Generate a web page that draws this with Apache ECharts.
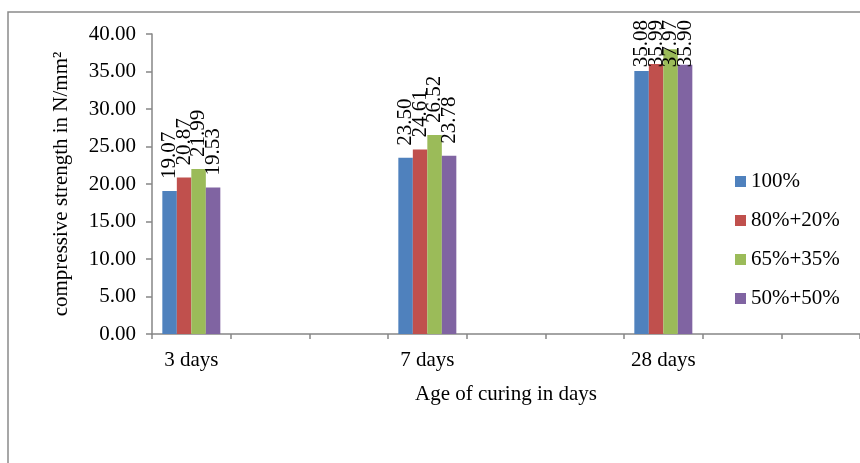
<!DOCTYPE html>
<html>
<head>
<meta charset="utf-8">
<script src="https://cdn.jsdelivr.net/npm/echarts@6/dist/echarts.min.js"></script>
<style>html,body{margin:0;padding:0;background:#fff;}#c{width:860px;height:463px;}</style>
</head>
<body>
<div id="c"></div>
<script>
const categories = ["3 days", "", "", "7 days", "", "", "28 days", "", ""];
const seriesNames = ["100%", "80%+20%", "65%+35%", "50%+50%"];
const s100 = [19.07, null, null, 23.50, null, null, 35.08, null, null];
const s80_20 = [20.87, null, null, 24.61, null, null, 35.99, null, null];
const s65_35 = [21.99, null, null, 26.52, null, null, 37.97, null, null];
const s50_50 = [19.53, null, null, 23.78, null, null, 35.90, null, null];
const yTicks = { min: 0, max: 40, interval: 5 };
const colors = ["#4F81BD", "#C0504D", "#9BBB59", "#8064A2"];

const FONT = "'Liberation Serif', 'Times New Roman', serif";
const FS = 21;
const chart = echarts.init(document.getElementById('c'), null, { renderer: 'canvas' });
const allData = [s100, s80_20, s65_35, s50_50];

chart.setOption({
  animation: false,
  textStyle: { fontFamily: FONT, color: '#000' },
  graphic: [
    { type: 'polyline', shape: { points: [[8, 470], [8, 12], [870, 12]] }, style: { stroke: '#8a8a8a', lineWidth: 1.5, fill: null } }
  ],
  legend: {
    orient: 'vertical',
    left: 735, top: 171, padding: 0,
    itemWidth: 11, itemHeight: 11, itemGap: 18,
    icon: 'rect',
    textStyle: { fontFamily: FONT, fontSize: FS, color: '#000', lineHeight: 21 },
    data: seriesNames
  },
  grid: { left: 152, right: -7.5, top: 34, bottom: 129, containLabel: false },
  xAxis: {
    type: 'category', data: categories,
    axisLine: { lineStyle: { color: '#868686', width: 1.5 } },
    axisTick: { show: true, length: 5, lineStyle: { color: '#868686', width: 1.5 } },
    axisLabel: { fontFamily: FONT, fontSize: FS, color: '#000', margin: 16, interval: 0 },
    name: 'Age of curing in days', nameLocation: 'middle', nameGap: 50,
    nameTextStyle: { fontFamily: FONT, fontSize: FS, color: '#000' }
  },
  yAxis: {
    type: 'value', min: yTicks.min, max: yTicks.max, interval: yTicks.interval,
    axisLine: { show: true, lineStyle: { color: '#868686', width: 1.5 } },
    axisTick: { show: true, length: 6, lineStyle: { color: '#868686', width: 1.5 } },
    splitLine: { show: false },
    axisLabel: { fontFamily: FONT, fontSize: FS, color: '#000', margin: 16, formatter: v => v.toFixed(2) },
    name: 'compressive strength in N/mm²', nameLocation: 'middle', nameGap: 80,
    nameTextStyle: { fontFamily: FONT, fontSize: FS, color: '#000' }
  },
  series: seriesNames.map((n, i) => ({
    name: n, type: 'bar', data: allData[i], barWidth: 14.5, barGap: '0%',
    itemStyle: { color: colors[i] },
    label: {
      show: true, position: 'top', rotate: 90, align: 'left', verticalAlign: 'middle', distance: 12,
      fontFamily: FONT, fontSize: FS, color: '#000',
      formatter: p => p.value == null ? '' : p.value.toFixed(2)
    },
    labelLayout: function (params) {
      const r = params.labelRect;
      if (r && r.y < 20) return { dx: -(20 - r.y) };
      return {};
    }
  }))
});
</script>
</body>
</html>
